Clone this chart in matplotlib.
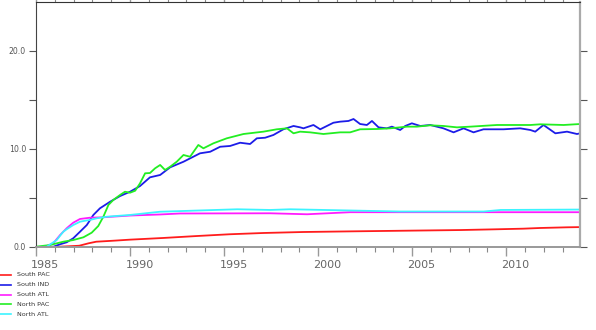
import matplotlib
matplotlib.use("Agg")
import matplotlib.pyplot as plt
from matplotlib.lines import Line2D

# ---------------- data ----------------
names = ["South PAC", "South IND", "South ATL", "North PAC", "North ATL"]
colors = ["#ff1c1c", "#1c1ce8", "#ff1cff", "#22ee22", "#3cf4ff"]

south_pac_t = [1985.0, 1986.1, 1986.8, 1987.3, 1987.8, 1988.2, 1989.1, 1990.0, 1991.75,
               1993.55, 1995.3, 1997.1, 1999.2, 2001.9, 2004.5, 2007.55, 2009.3, 2010.9,
               2011.8, 2013.25, 2013.92]
south_pac_v = [0.0, 0.02, 0.08, 0.13, 0.38, 0.54, 0.64, 0.75, 0.92,
               1.12, 1.30, 1.43, 1.53, 1.60, 1.66, 1.73, 1.80, 1.87,
               1.94, 2.01, 2.03]

south_ind_t = [1985.0, 1985.39, 1985.92, 1986.28, 1986.63, 1986.98, 1987.34, 1987.70, 1988.05,
               1988.40, 1988.94, 1989.47, 1990.0, 1990.53, 1991.06, 1991.60, 1992.13, 1992.84,
               1993.72, 1994.26, 1994.79, 1995.32, 1995.85, 1996.38, 1996.74, 1997.18, 1997.62,
               1998.15, 1998.69, 1999.04, 1999.22, 1999.75, 2000.11, 2000.81, 2001.17, 2001.61,
               2001.88, 2002.23, 2002.59, 2002.86, 2003.21, 2003.65, 2003.92, 2004.36, 2004.63,
               2004.98, 2005.43, 2005.96, 2006.66, 2007.20, 2007.73, 2008.26, 2008.79, 2009.86,
               2010.74, 2011.28, 2011.54, 2011.98, 2012.61, 2013.23, 2013.76, 2013.92]
south_ind_v = [0.0, 0.0, 0.02, 0.28, 0.48, 0.89, 1.56, 2.24, 3.27,
               3.95, 4.62, 5.20, 5.64, 6.22, 7.11, 7.35, 8.13, 8.70,
               9.56, 9.72, 10.23, 10.31, 10.64, 10.51, 11.09, 11.15, 11.43,
               12.01, 12.35, 12.21, 12.11, 12.45, 12.01, 12.68, 12.79, 12.86,
               13.06, 12.55, 12.45, 12.86, 12.21, 12.11, 12.28, 11.94, 12.35,
               12.62, 12.35, 12.45, 12.11, 11.70, 12.11, 11.70, 12.01, 12.01,
               12.11, 11.94, 11.77, 12.45, 11.60, 11.77, 11.53, 11.60]

south_atl_t = [1985.0, 1985.48, 1985.92, 1986.28, 1986.63, 1986.98, 1987.34, 1987.87, 1988.56,
               1990.0, 1991.60, 1992.66, 1997.45, 1999.41, 2001.70, 2013.92]
south_atl_v = [0.0, 0.02, 0.38, 1.22, 1.91, 2.48, 2.86, 2.99, 3.03,
               3.21, 3.32, 3.42, 3.44, 3.34, 3.55, 3.55]

north_pac_t = [1985.0, 1985.74, 1986.45, 1986.98, 1987.52, 1987.96, 1988.31, 1988.58, 1988.85,
               1989.11, 1989.47, 1989.73, 1990.0, 1990.27, 1990.53, 1990.80, 1991.06, 1991.33,
               1991.60, 1991.86, 1992.13, 1992.48, 1992.84, 1993.19, 1993.63, 1993.90, 1994.43,
               1995.14, 1996.03, 1997.09, 1997.80, 1998.34, 1998.69, 1999.04, 1999.57, 2000.28,
               2001.17, 2001.70, 2002.23, 2003.12, 2003.83, 2004.72, 2005.25, 2005.96, 2006.66,
               2007.38, 2008.09, 2009.51, 2011.28, 2011.81, 2013.05, 2013.92]
north_pac_v = [0.03, 0.20, 0.54, 0.71, 0.99, 1.46, 2.14, 3.09, 4.29,
               4.80, 5.31, 5.64, 5.54, 5.74, 6.50, 7.52, 7.55, 8.03,
               8.37, 7.86, 8.19, 8.70, 9.39, 9.21, 10.41, 10.07, 10.58,
               11.09, 11.53, 11.77, 12.01, 12.11, 11.60, 11.77, 11.70, 11.53,
               11.70, 11.70, 12.01, 12.04, 12.11, 12.28, 12.28, 12.42, 12.35,
               12.21, 12.28, 12.45, 12.45, 12.52, 12.45, 12.55]

north_atl_t = [1985.0, 1985.57, 1986.10, 1986.45, 1986.63, 1986.98, 1987.34, 1987.61, 1987.87,
               1988.23, 1988.76, 1990.0, 1991.60, 1995.7, 1997.45, 1998.51, 2004.36, 2008.8,
               2009.7, 2013.92]
north_atl_v = [0.0, 0.03, 0.71, 1.56, 1.81, 2.24, 2.58, 2.68, 2.76,
               2.93, 3.09, 3.27, 3.60, 3.85, 3.78, 3.85, 3.62, 3.62,
               3.78, 3.82]

y_ticks = [0, 10, 20]
y_tick_labels = ["0.0", "10.0", "20.0"]
y_minor = [5, 15]
x_major = [1985, 1990, 1995, 2000, 2005, 2010]
x_labels = ["1985", "1990", "1995", "2000", "2005", "2010"]
x_minor = list(range(1985, 2014))

series_t = [south_pac_t, south_ind_t, south_atl_t, north_pac_t, north_atl_t]
series_v = [south_pac_v, south_ind_v, south_atl_v, north_pac_v, north_atl_v]

# ---------------- figure ----------------
W, H = 596, 330
fig = plt.figure(figsize=(W / 100, H / 100), dpi=100)
ax = fig.add_axes([36 / W, 1 - 247 / H, 544 / W, 245 / H])

for t, v, c in zip(series_t, series_v, colors):
    ax.plot(t, v, color=c, lw=1.3, solid_joinstyle="round")

ax.set_xlim(1985, 2013.92)
ax.set_ylim(0, 25)

# spines
ax.spines["left"].set_color("#444444")
ax.spines["left"].set_linewidth(0.8)
ax.spines["top"].set_color("#333333")
ax.spines["top"].set_linewidth(0.8)
ax.spines["bottom"].set_color("#999999")
ax.spines["bottom"].set_linewidth(1.4)
ax.spines["right"].set_color("#aaaaaa")
ax.spines["right"].set_linewidth(1.6)

# y ticks
ax.set_yticks(y_ticks)
ax.set_yticklabels(y_tick_labels)
ax.set_yticks(y_minor, minor=True)
ax.tick_params(axis="y", which="both", direction="out", length=5.0, width=0.8,
               color="#555555", labelsize=5.6, labelcolor="#555555", pad=2.2,
               left=True, right=True, labelright=False)
ax.tick_params(axis="y", which="minor", length=5.0)

# x ticks
ax.set_xticks(x_major)
ax.set_xticklabels([""] * len(x_major))
ax.set_xticks(x_minor, minor=True)
ax.tick_params(axis="x", which="major", direction="out", length=6.5, width=1.0,
               color="#999999", top=True, bottom=True)
ax.tick_params(axis="x", which="minor", direction="out", length=3.6, width=0.8,
               color="#888888", top=True, bottom=True)

for yr, lab in zip(x_major, x_labels):
    ax.annotate(lab, xy=(yr + 0.5, 0), xycoords=("data", "axes fraction"),
                xytext=(0, -18), textcoords="offset pixels",
                ha="center", va="center", fontsize=8, color="#666666")

# legend drawn below the axes, at the left edge of the figure
for i, (name, c) in enumerate(zip(names, colors)):
    yy = 1 - (275 + i * 9.8) / H
    fig.add_artist(Line2D([0 / W, 11 / W], [yy, yy], color=c, lw=1.2,
                          transform=fig.transFigure))
    fig.text(17 / W, yy, name, fontsize=4.6, color="#333333", va="center", ha="left")

fig.savefig("out.png", dpi=100)
